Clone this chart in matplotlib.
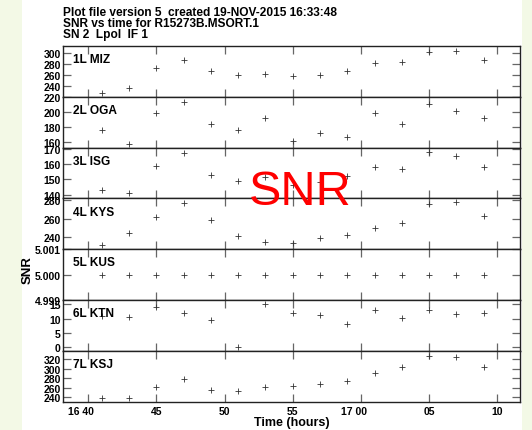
import matplotlib
matplotlib.use("Agg")
import matplotlib.pyplot as plt
import matplotlib.transforms as mtransforms
from matplotlib.patches import Rectangle

# time in minutes after 16:00
times = [41, 43, 45, 47, 49, 51, 53, 55, 57, 59, 61, 63, 65, 67, 69]

stations = ["1L MIZ", "2L OGA", "3L ISG", "4L KYS", "5L KUS", "6L KTN", "7L KSJ"]

snr_miz = [226.7, 236.5, 273.1, 287.8, 266.4, 259.7, 262.1, 257.3, 260.3, 266.4, 281.1, 283.5, 302.4, 303.7, 287.2]
snr_oga = [175.5, 157.3, 198.2, 214.1, 183.6, 175.9, 191.4, 160.9, 170.9, 166.8, 199.1, 183.6, 210.5, 201.4, 191.4]
snr_isg = [143.3, 140.7, 159.1, 167.8, 153.1, 149.1, 151.5, 146.0, 148.0, 152.0, 158.4, 157.1, 168.2, 165.8, 158.2]
snr_kys = [232.5, 244.3, 261.8, 276.1, 258.2, 241.4, 235.0, 233.6, 239.6, 242.9, 249.6, 255.7, 275.4, 277.1, 262.9]
snr_kus = [5.0, 5.0, 5.0, 5.0, 5.0, 5.0, 5.0, 5.0, 5.0, 5.0, 5.0, 5.0, 5.0, 5.0, 5.0]
snr_ktn = [11.0, 10.6, 14.0, 12.1, 9.6, 0.0, 15.0, 12.1, 11.4, 8.2, 13.1, 10.1, 13.0, 11.8, 12.1]
snr_ksj = [239.5, 239.5, 262.4, 277.7, 256.2, 253.4, 261.0, 263.8, 268.7, 275.0, 291.7, 302.8, 327.1, 325.0, 302.8]

series = [snr_miz, snr_oga, snr_isg, snr_kys, snr_kus, snr_ktn, snr_ksj]

y_limits = [(220, 312.8), (151.8, 220.5), (137.4, 171.1), (227.5, 281.4),
            (4.999, 5.001), (-1.2, 16.5), (231, 337.4)]
y_ticks = [[220, 240, 260, 280, 300], [160, 180, 200], [140, 150, 160, 170],
           [240, 260, 280], [4.999, 5.000, 5.001], [0, 5, 10, 15],
           [240, 260, 280, 300, 320]]

x_ticks = [40, 45, 50, 55, 60, 65, 70]
x_tick_labels = ["16 40", "45", "50", "55", "17 00", "05", "10"]

plt.rcParams['font.family'] = ['Liberation Sans', 'DejaVu Sans']

fig, axes = plt.subplots(7, 1, sharex=True, figsize=(5.32, 4.31), dpi=100)
fig.subplots_adjust(left=0.119, right=0.977, bottom=0.0657, top=0.891, hspace=0)
fig.patch.set_facecolor('#f3f9e6')
fig.patches.append(Rectangle((22 / 532, 0), 500 / 532, 1, transform=fig.transFigure,
                             facecolor='white', edgecolor='none', zorder=-10))

for i, ax in enumerate(axes):
    ax.plot(times, series[i], linestyle='none', marker='+', markersize=5,
            markeredgewidth=0.6, color='#333333')
    ax.set_ylim(*y_limits[i])
    ax.set_yticks(y_ticks[i])
    if i == 4:
        ax.set_yticklabels([f"{v:.3f}" for v in y_ticks[i]])
    ax.set_xlim(38.17, 71.65)
    ax.set_xticks(x_ticks)
    ax.tick_params(axis='both', direction='in', length=6, width=0.9, color='#666666',
                   top=True, right=True, labelsize=7.5, pad=2)
    ax.tick_params(axis='x', pad=3)
    for lab in ax.get_yticklabels():
        lab.set_fontweight('bold')
    for sp in ax.spines.values():
        sp.set_color('#222222')
        sp.set_linewidth(1.0)
    ax.text(0.022, 0.74, stations[i], transform=ax.transAxes, fontsize=8.6,
            fontweight='bold', va='center', ha='left')

axes[-1].set_xticklabels(x_tick_labels, fontweight='bold')
# hour labels: keep the minutes centred on the tick
shift = mtransforms.ScaledTranslation(-7 / 100, 0, fig.dpi_scale_trans)
for lab in axes[-1].get_xticklabels():
    if " " in lab.get_text():
        lab.set_transform(lab.get_transform() + shift)
axes[-1].set_xlabel("Time (hours)", fontsize=9, fontweight='bold', labelpad=0)

fig.text(28 / 532, 1 - 270 / 431, "SNR", rotation=90, fontsize=9.5, fontweight='bold',
         ha='center', va='center')

title_lines = ["Plot file version 5  created 19-NOV-2015 16:33:48",
               "SNR vs time for R15273B.MSORT.1",
               "SN 2  Lpol  IF 1"]
for k, line in enumerate(title_lines):
    fig.text(63 / 532, 1 - (12.5 + 11.3 * k) / 431, line, fontsize=8.6,
             fontweight='bold', ha='left', va='center')

fig.text(300 / 532, 1 - 193 / 431, "SNR", color='red', fontsize=35,
         ha='center', va='center')

fig.savefig("out.png", dpi=100, facecolor=fig.get_facecolor())
